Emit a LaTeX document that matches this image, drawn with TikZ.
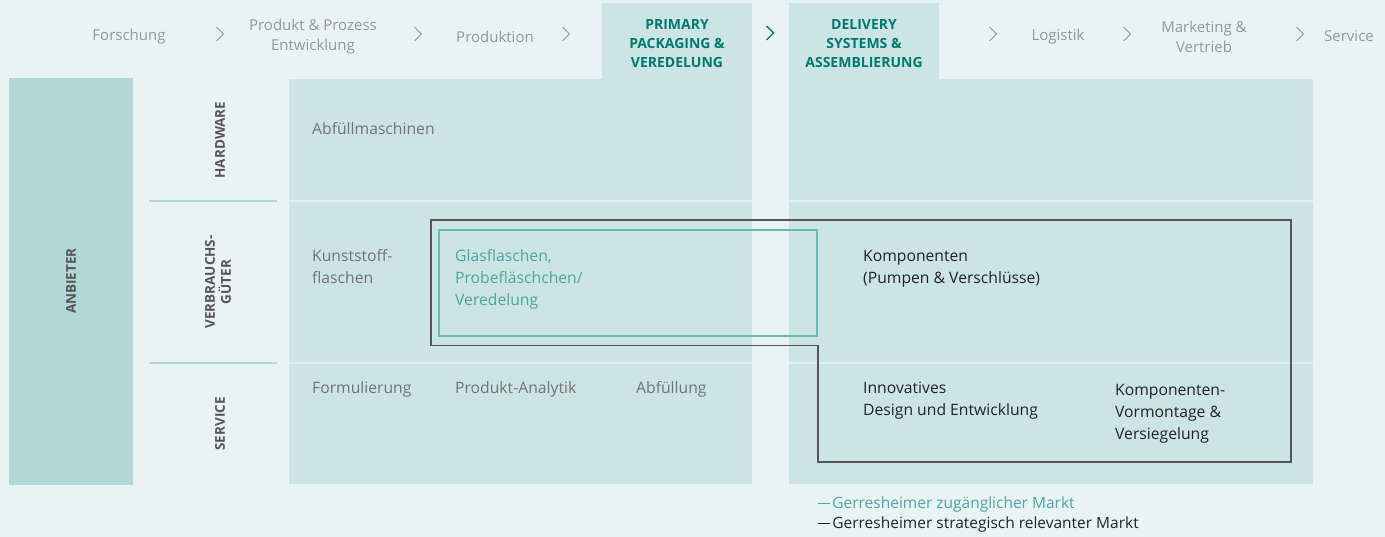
\documentclass[tikz,border=0pt]{standalone}
\usepackage{fontspec}
\setmainfont{Open Sans}
\definecolor{bg}{RGB}{233,243,243}
\definecolor{panel}{RGB}{204,228,228}
\definecolor{anb}{RGB}{178,215,215}
\definecolor{sepin}{RGB}{226,239,239}
\definecolor{hdr}{RGB}{0,122,112}
\definecolor{lgray}{RGB}{150,150,150}
\definecolor{cgray}{RGB}{115,115,115}
\definecolor{dtext}{RGB}{35,35,35}
\definecolor{tealtxt}{RGB}{75,165,160}
\definecolor{tealline}{RGB}{105,185,180}
\definecolor{blk}{RGB}{85,85,85}
\definecolor{lblgray}{RGB}{85,85,85}
\begin{document}
\begin{tikzpicture}[x=1pt,y=-1pt,
  stagetxt/.style={inner sep=0pt, align=center, text=lgray, font=\fontsize{15}{20}\selectfont},
  tabtxt/.style={inner sep=0pt, align=center, text=hdr, font=\bfseries\fontsize{14}{19}\selectfont},
  chev/.style={draw=lgray, line width=0.9pt},
  rowlbl/.style={inner sep=0pt, align=center, rotate=90, text=lblgray, font=\bfseries\fontsize{13.5}{16}\selectfont},
  celltxt/.style={inner sep=0pt, anchor=base west, align=left, text=cgray, font=\fontsize{15.7}{22}\selectfont},
  darktxt/.style={celltxt, text=dtext},
  tealtx/.style={celltxt, text=tealtxt},
  sepline/.style={draw=sepin, line width=2pt},
  lsep/.style={draw=anb, line width=2pt}
]
\useasboundingbox (0,0) rectangle (1385,537);
\fill[bg] (0,0) rectangle (1385,537);
% blocks
\fill[anb] (9,78) rectangle (133,485);
\fill[panel] (289,79) rectangle (752,484);
\fill[panel] (602,3) rectangle (752,80);
\fill[panel] (789,79) rectangle (1313,484);
\fill[panel] (789,3) rectangle (939,80);
% separators
\draw[sepline] (289,201) -- (752,201);
\draw[sepline] (289,363) -- (752,363);
\draw[sepline] (789,201) -- (1313,201);
\draw[sepline] (789,363) -- (1313,363);
\draw[lsep] (149,201) -- (277,201);
\draw[lsep] (149,363) -- (277,363);
% header stages
\node[stagetxt] (s1) at (129,36.5) {Forschung};
\node[stagetxt] (s2) at (313,36.5) {Produkt \& Prozess\\Entwicklung};
\node[stagetxt] (s3) at (495,36.5) {Produktion};
\node[tabtxt] (s4) at (677,44) {PRIMARY\\PACKAGING \&\\VEREDELUNG};
\node[tabtxt] (s5) at (864,44) {DELIVERY\\SYSTEMS \&\\ASSEMBLIERUNG};
\node[stagetxt] (s6) at (1058,36.5) {Logistik};
\node[stagetxt] (s7) at (1204,36.5) {Marketing \&\\Vertrieb};
\node[stagetxt] (s8) at (1349,36.5) {Service};
% chevrons
\foreach \cx in {220,418,566,993,1127,1300}{
  \draw[chev] (\cx-3.5,27) -- (\cx+3.5,34) -- (\cx-3.5,41);
}
\draw[draw=hdr, line width=1.4pt] (766.5,26) -- (773.5,33) -- (766.5,40);
% row labels
\node[rowlbl] (anb) at (71,281) {ANBIETER};
\node[rowlbl] (hw) at (220,140) {HARDWARE};
\node[rowlbl] (vg) at (218,282) {VERBRAUCHS-\\GÜTER};
\node[rowlbl] (sv) at (220,424) {SERVICE};
% outlines
\draw[draw=blk, line width=1.4pt] (431,220) -- (1291,220) -- (1291,462) -- (818,462) -- (818,345.5) -- (431,345.5) -- cycle;
\draw[draw=tealline, line width=1.3pt] (439,230) rectangle (817,336);
% cell texts (base = baseline of last line)
\node[celltxt] (c1) at (312,135) {Abfüllmaschinen};
\node[celltxt] (c2) at (312,284) {Kunststoff-\\flaschen};
\node[tealtx] (c3) at (455,306) {Glasflaschen,\\Probefläschchen/\\Veredelung};
\node[darktxt] (c4) at (863,284) {Komponenten\\(Pumpen \& Verschlüsse)};
\node[celltxt] (c5) at (312,394) {Formulierung};
\node[celltxt] (c6) at (455,394) {Produkt-Analytik};
\node[celltxt] (c7) at (636,394) {Abfüllung};
\node[darktxt] (c8) at (863,416) {Innovatives\\Design und Entwicklung};
\node[darktxt] (c9) at (1115,439) {Komponenten-\\Vormontage \&\\Versiegelung};
% legend
\node[celltxt, text=tealtxt, font=\fontsize{15.5}{20}\selectfont] (l1) at (818,508) {\rule[0.3em]{0.75em}{0.8pt}\,Gerresheimer zugänglicher Markt};
\node[celltxt, text=dtext, font=\fontsize{15.5}{20}\selectfont] (l2) at (818,528) {\rule[0.3em]{0.75em}{0.8pt}\,Gerresheimer strategisch relevanter Markt};
\end{tikzpicture}
\end{document}
